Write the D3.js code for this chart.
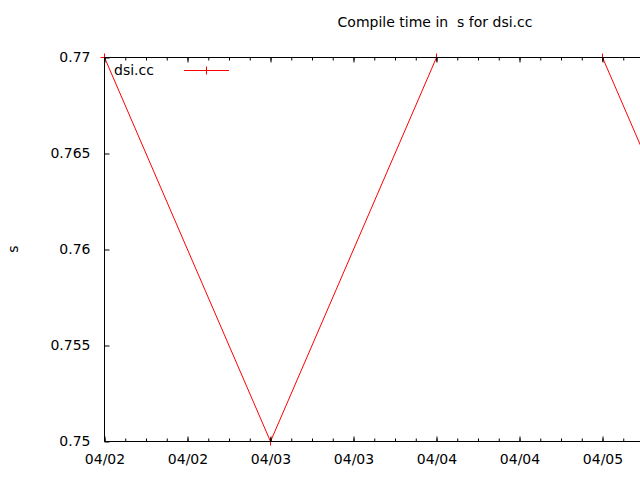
<!DOCTYPE html>
<html>
<head>
<meta charset="utf-8">
<script src="https://cdn.jsdelivr.net/npm/d3@7"></script>
<style>
  html, body { margin: 0; padding: 0; background: #fff; }
  svg { display: block; font-family: "DejaVu Sans", sans-serif; }
</style>
</head>
<body>
<svg id="chart" width="640" height="480"></svg>
<script>
// ---- data ----
const dates = ["2013-04-02T00:00", "2013-04-03T00:00", "2013-04-04T00:00", "2013-04-05T00:00", "2013-04-06T00:00"];
const values = [0.77, 0.75, 0.77, 0.77, 0.75];
const seriesName = "dsi.cc";
const yTicks = [0.75, 0.755, 0.76, 0.765, 0.77];
const titleText = "Compile time in  s for dsi.cc";
const yLabel = "s";

const parse = d3.utcParse("%Y-%m-%dT%H:%M");
const data = dates.map((d, i) => ({ t: parse(d), v: values[i] }));

const W = 640;
const svg = d3.select("#chart");
const pLeft = 104.5, pRight = 768.5, pTop = 57.5, pBottom = 441.5;

const x = d3.scaleUtc()
  .domain([parse("2013-04-02T00:00"), parse("2013-04-06T00:00")])
  .range([pLeft, pRight]);
const y = d3.scaleLinear().domain([0.75, 0.77]).range([pBottom, pTop]);

// ---- data line + markers (drawn under border) ----
const line = d3.line().x(d => x(d.t)).y(d => y(d.v));
svg.append("path").datum(data)
  .attr("d", line)
  .attr("fill", "none")
  .attr("stroke", "#ff0000")
  .attr("stroke-width", 1);

const plus = (g, cx, cy, s) => {
  g.append("line").attr("x1", cx - s).attr("x2", cx + s).attr("y1", cy).attr("y2", cy);
  g.append("line").attr("x1", cx).attr("x2", cx).attr("y1", cy - s).attr("y2", cy + s);
};
const mk = svg.append("g").attr("stroke", "#ff0000").attr("stroke-width", 1);
data.forEach(d => plus(mk, x(d.t), y(d.v), 4));

// ---- axes / border ----
const fmt = d3.utcFormat("%m/%d");
const majorTicks = d3.utcHour.every(12).range(x.domain()[0], d3.utcHour.offset(x.domain()[1], 1));
const minorTicks = d3.utcHour.every(3).range(x.domain()[0], d3.utcHour.offset(x.domain()[1], 1));
const labelTicks = majorTicks.filter(t => x(t) + 22 <= W);

const styleAxis = g => {
  g.select(".domain").remove();
  g.selectAll("line").attr("stroke", "#000");
  g.selectAll("text").attr("fill", "#000").style("font-size", "14px").style("font-family", "DejaVu Sans, sans-serif");
};

// minor ticks bottom / top
svg.append("g").attr("transform", `translate(0,${pBottom})`)
  .call(d3.axisBottom(x).tickValues(minorTicks).tickSize(-3).tickFormat(""))
  .call(styleAxis);
svg.append("g").attr("transform", `translate(0,${pTop})`)
  .call(d3.axisTop(x).tickValues(minorTicks).tickSize(-3).tickFormat(""))
  .call(styleAxis);

// major ticks bottom with labels
svg.append("g").attr("transform", `translate(0,${pBottom})`)
  .call(d3.axisBottom(x).tickValues(majorTicks).tickSize(-5).tickFormat(""))
  .call(styleAxis);
svg.append("g").attr("transform", `translate(0,${pBottom})`)
  .call(d3.axisBottom(x).tickValues(labelTicks).tickSize(0).tickPadding(13).tickFormat(fmt))
  .call(styleAxis);
svg.append("g").attr("transform", `translate(0,${pTop})`)
  .call(d3.axisTop(x).tickValues(majorTicks).tickSize(-5).tickFormat(""))
  .call(styleAxis);

// y axis
svg.append("g").attr("transform", `translate(${pLeft},0)`)
  .call(d3.axisLeft(y).tickValues(yTicks).tickSize(-5).tickPadding(14).tickFormat(d3.format("")))
  .call(styleAxis);

// border lines
const border = svg.append("g").attr("stroke", "#000").attr("stroke-width", 1);
border.append("line").attr("x1", pLeft).attr("x2", pRight).attr("y1", pTop).attr("y2", pTop);
border.append("line").attr("x1", pLeft).attr("x2", pRight).attr("y1", pBottom).attr("y2", pBottom);
border.append("line").attr("x1", pLeft).attr("x2", pLeft).attr("y1", pTop).attr("y2", pBottom);
border.append("line").attr("x1", pRight).attr("x2", pRight).attr("y1", pTop).attr("y2", pBottom);

// ---- title ----
svg.append("text")
  .attr("x", 435).attr("y", 27)
  .attr("text-anchor", "middle")
  .style("font-size", "14px")
  .style("white-space", "pre")
  .attr("xml:space", "preserve")
  .text(titleText);

// ---- y label ----
svg.append("text")
  .attr("transform", "translate(18,249) rotate(-90)")
  .attr("text-anchor", "middle")
  .style("font-size", "14px")
  .text(yLabel);

// ---- legend ----
svg.append("text")
  .attr("x", 114).attr("y", 75)
  .style("font-size", "14px")
  .text(seriesName);
const lg = svg.append("g").attr("stroke", "#ff0000").attr("stroke-width", 1);
lg.append("line").attr("x1", 184).attr("x2", 229).attr("y1", 70.5).attr("y2", 70.5);
plus(lg, 206.5, 70.5, 4);
</script>
</body>
</html>
